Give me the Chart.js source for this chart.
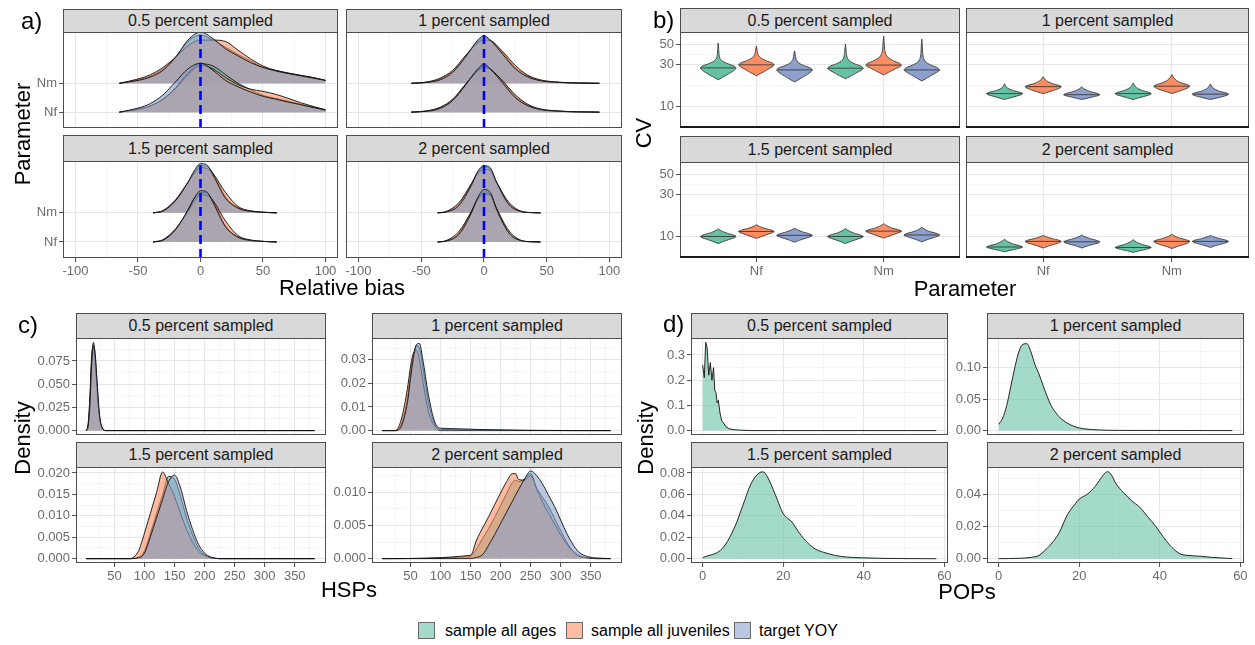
<!DOCTYPE html>
<html><head><meta charset="utf-8">
<script src="https://cdn.jsdelivr.net/npm/chart.js@4.4.0/dist/chart.umd.min.js"></script>
<style>
html,body{margin:0;padding:0;background:#fff;width:1255px;height:645px;overflow:hidden;font-family:"Liberation Sans",Arial,Helvetica,sans-serif;}
#root{position:relative;width:1255px;height:645px;}
canvas{position:absolute;}
.strip{position:absolute;background:#d9d9d9;border:1px solid #4d4d4d;box-sizing:border-box;text-align:center;font-size:16px;color:#1a1a1a;white-space:nowrap;}
.t{position:absolute;white-space:nowrap;color:#000;}
.ctr{transform:translateX(-50%);}
.rot{transform:translate(-50%,-50%) rotate(-90deg);}
.key{position:absolute;width:17px;height:17px;box-sizing:border-box;border:1px solid #6a6a6a;}
</style></head>
<body><div id="root"></div>
<script>
// ================= DATA =================
const strips = ['0.5 percent sampled','1 percent sampled','1.5 percent sampled','2 percent sampled'];
const seriesNames = ['sample all ages','sample all juveniles','target YOY'];
const params = ['Nf','Nm'];
const refBias = 0;

// ---- a) relative bias ridgelines (heights in ridge units above baseline) ----
const aX05 = [-65,-50,-40,-30,-20,-10,0,10,20,30,40,50,60,70,80,90,100];
const a05NfG = [0,0.1,0.22,0.45,0.85,1.35,1.68,1.6,1.3,1.0,0.78,0.58,0.48,0.38,0.28,0.18,0.08];
const a05NfO = [0,0.1,0.22,0.45,0.82,1.3,1.62,1.5,1.2,0.95,0.8,0.72,0.62,0.48,0.33,0.2,0.08];
const a05NfB = [0,0.14,0.3,0.6,1.05,1.5,1.7,1.45,1.1,0.88,0.7,0.55,0.45,0.35,0.26,0.16,0.07];
const a05NmG = [0,0.12,0.25,0.5,0.9,1.45,1.68,1.5,1.25,1.0,0.78,0.55,0.45,0.36,0.28,0.2,0.1];
const a05NmO = [0,0.15,0.3,0.55,0.9,1.3,1.5,1.5,1.45,1.15,0.85,0.6,0.45,0.35,0.27,0.2,0.1];
const a05NmB = [0,0.1,0.22,0.45,0.9,1.5,1.78,1.55,1.2,0.95,0.72,0.55,0.43,0.34,0.26,0.18,0.1];

const aX1 = [-58,-45,-35,-25,-15,-5,0,5,15,25,35,45,60,75,92];
const a1NfG = [0,0.04,0.15,0.42,0.95,1.45,1.6,1.5,1.05,0.55,0.24,0.1,0.03,0.01,0];
const a1NfO = [0,0.05,0.17,0.45,0.95,1.42,1.55,1.48,1.08,0.6,0.27,0.11,0.04,0.01,0];
const a1NfB = [0,0.03,0.13,0.4,0.92,1.5,1.66,1.5,1.0,0.5,0.22,0.09,0.03,0.01,0];
const a1NmG = [0,0.04,0.15,0.4,0.9,1.45,1.58,1.5,1.05,0.55,0.25,0.1,0.03,0.01,0];
const a1NmO = [0,0.05,0.18,0.45,0.95,1.4,1.5,1.48,1.1,0.62,0.28,0.12,0.04,0.01,0];
const a1NmB = [0,0.03,0.12,0.38,0.9,1.5,1.65,1.5,1.0,0.5,0.22,0.09,0.03,0.01,0];

const aX15 = [-38,-30,-20,-10,-5,0,5,10,20,30,40,50,61];
const a15NfG = [0,0.06,0.42,1.1,1.5,1.7,1.68,1.4,0.55,0.18,0.06,0.02,0];
const a15NfO = [0,0.08,0.45,1.05,1.4,1.62,1.6,1.42,0.72,0.22,0.07,0.02,0];
const a15NfB = [0,0.06,0.42,1.1,1.5,1.76,1.72,1.35,0.52,0.16,0.05,0.02,0];
const a15NmG = [0,0.06,0.4,1.05,1.4,1.62,1.6,1.35,0.55,0.18,0.06,0.02,0];
const a15NmO = [0,0.08,0.45,1.05,1.35,1.55,1.52,1.35,0.7,0.22,0.07,0.02,0];
const a15NmB = [0,0.06,0.42,1.05,1.45,1.69,1.65,1.3,0.5,0.16,0.05,0.02,0];

const aX2 = [-37,-30,-20,-10,-5,0,5,10,20,30,37,45];
const a2NfG = [0,0.04,0.3,1.05,1.5,1.72,1.65,1.15,0.32,0.04,0.01,0];
const a2NfO = [0,0.05,0.36,1.05,1.45,1.65,1.6,1.15,0.38,0.05,0.01,0];
const a2NfB = [0,0.03,0.26,1.0,1.52,1.8,1.7,1.12,0.3,0.04,0.01,0];
const a2NmG = [0,0.04,0.3,1.0,1.4,1.58,1.5,1.05,0.3,0.04,0.01,0];
const a2NmO = [0,0.05,0.35,1.0,1.35,1.5,1.45,1.05,0.35,0.05,0.01,0];
const a2NmB = [0,0.03,0.25,0.95,1.42,1.62,1.55,1.05,0.28,0.04,0.01,0];

const aBiasTicks = [-100,-50,0,50,100];

// ---- b) CV violins (CV values along each violin, relative width profile) ----
const bWidthLong = [0,0.2,0.45,0.7,0.92,1,0.88,0.55,0.25,0.1,0.05,0.03,0];
const bWidthShort = [0,0.3,0.65,0.92,1,0.85,0.5,0.25,0.1,0];
const b05NfG = [20.1,21.2,22.6,24.2,26,27.4,28.8,30.5,32.5,35,39,44,52.4];
const b05NfO = [22.3,23.5,25,26.8,28.5,29.7,31.2,33,35.5,38.5,42,45,48.4];
const b05NfB = [19,20,21.5,23,24.8,26,27.4,29,31,34,37,40,42.7];
const b05NmG = [20.6,21.7,23,24.6,26,27.2,28.6,30.3,32.5,35.5,40,45,51];
const b05NmO = [22.8,24,25.4,27,28.4,29.5,31,33,36,40,46,54,63];
const b05NmB = [19.5,20.5,22,23.5,25,26,27.5,29.3,31.5,35,40,48,58];
const b1NfG = [12,12.5,13.1,13.6,14,14.5,15.1,15.8,16.6,18.1];
const b1NfO = [14,14.6,15.4,16.2,16.8,17.4,18.2,19.2,20.3,21.7];
const b1NfB = [12,12.4,12.9,13.3,13.6,14.1,14.7,15.4,16,16.8];
const b1NmG = [12,12.5,13.1,13.6,14,14.5,15.2,16,17,18.5];
const b1NmO = [14,14.7,15.5,16.4,17,17.7,18.6,19.8,21.2,23];
const b1NmB = [12,12.4,12.9,13.4,13.8,14.3,14.9,15.7,16.6,18];
const b15NfG = [8.3,8.8,9.3,9.7,10.0,10.4,10.9,11.4,11.8,12.2];
const b15NfO = [9.5,10.0,10.6,11.1,11.4,11.8,12.3,12.8,13.2,13.6];
const b15NfB = [8.6,9.1,9.6,10.0,10.3,10.7,11.2,11.7,12.1,12.4];
const b15NmG = [8.3,8.8,9.3,9.7,10.0,10.4,10.9,11.4,11.9,12.3];
const b15NmO = [9.6,10.1,10.7,11.2,11.5,11.9,12.4,13.0,13.5,14.0];
const b15NmB = [8.7,9.2,9.7,10.1,10.4,10.8,11.3,11.8,12.3,12.7];
const b2NfG = [6.7,6.95,7.2,7.45,7.6,7.85,8.2,8.6,8.95,9.3];
const b2NfO = [7.4,7.8,8.2,8.55,8.8,9.1,9.45,9.8,10.05,10.3];
const b2NfB = [7.4,7.8,8.15,8.45,8.7,9.0,9.4,9.8,10.1,10.4];
const b2NmG = [6.6,6.85,7.1,7.35,7.5,7.75,8.1,8.5,8.85,9.2];
const b2NmO = [7.3,7.7,8.1,8.5,8.8,9.1,9.5,9.9,10.25,10.6];
const b2NmB = [7.5,7.9,8.25,8.55,8.8,9.1,9.45,9.8,10.05,10.3];
const bCvTicks = [10,30,50];

// ---- c) HSPs density ----
const c05X = [3,6,9,12,15,18,21,24,27,30,35,383];
const c05G = [0,0.005,0.03,0.075,0.095,0.08,0.05,0.022,0.008,0.002,0,0];
const c05O = [0,0.006,0.035,0.08,0.09,0.072,0.045,0.02,0.007,0.002,0,0];
const c05B = [0,0.004,0.026,0.07,0.092,0.082,0.054,0.025,0.009,0.003,0,0];
const c1X = [3,25,35,45,50,55,60,65,70,80,90,100,383];
const c1G = [0,0,0.003,0.014,0.024,0.032,0.036,0.035,0.028,0.012,0.003,0.0005,0];
const c1O = [0,0,0.005,0.018,0.027,0.033,0.034,0.03,0.022,0.008,0.002,0,0];
const c1B = [0,0,0.002,0.012,0.022,0.031,0.0365,0.037,0.031,0.015,0.004,0.001,0];
const c15X = [3,75,90,100,110,120,130,140,150,160,170,180,190,200,210,225,383];
const c15G = [0,0,0.0003,0.0018,0.006,0.0105,0.0148,0.0192,0.0185,0.0145,0.0095,0.0055,0.0024,0.0009,0.0003,0,0];
const c15O = [0,0,0.0018,0.006,0.0107,0.0154,0.0202,0.0175,0.0145,0.0105,0.0068,0.0038,0.0017,0.0007,0.0002,0,0];
const c15B = [0,0,0.0002,0.0013,0.0052,0.0095,0.0138,0.018,0.0195,0.0165,0.0112,0.0068,0.0033,0.0013,0.0004,0,0];
const c2X = [3,150,160,170,180,190,200,210,220,225,230,240,250,260,270,280,290,300,310,320,330,345,360,383];
const c2G = [0,0.0003,0.0015,0.003,0.0045,0.0062,0.008,0.0098,0.0115,0.0118,0.0116,0.012,0.0128,0.0106,0.0092,0.0078,0.006,0.0042,0.0025,0.0012,0.0005,0.0001,0,0];
const c2O = [0,0.0005,0.0028,0.0046,0.0063,0.0081,0.0099,0.0116,0.0128,0.0128,0.0119,0.0118,0.0125,0.0105,0.0085,0.0068,0.0052,0.0036,0.0022,0.0011,0.0004,0.0001,0,0];
const c2B = [0,0,0.0002,0.0006,0.002,0.0036,0.0053,0.007,0.0087,0.0096,0.0104,0.012,0.0132,0.0125,0.0112,0.0095,0.0078,0.0058,0.0038,0.0022,0.001,0.0003,0.0001,0];
const cHspTicks = [50,100,150,200,250,300,350];
const c05Ticks = [0,0.025,0.05,0.075];
const c1Ticks = [0,0.01,0.02,0.03];
const c15Ticks = [0,0.005,0.01,0.015,0.02];
const c2Ticks = [0,0.005,0.01];

// ---- d) POPs density (sample all ages) ----
const d05X = [0,0.4,0.75,1.1,1.5,1.9,2.3,2.7,3.0,3.3,3.6,3.9,4.3,4.7,5.2,5.8,6.5,7.5,9,12,58];
const d05 = [0.26,0.21,0.35,0.33,0.22,0.27,0.2,0.25,0.16,0.15,0.11,0.12,0.07,0.04,0.03,0.015,0.008,0.004,0.002,0,0];
const d1X = [0,1,2,3,4,5,6,7,8,9,10,11,12,13,14,15,17,19,21,25,30,58];
const d1 = [0.01,0.02,0.04,0.07,0.1,0.125,0.137,0.138,0.125,0.105,0.09,0.072,0.055,0.04,0.03,0.022,0.012,0.006,0.003,0.001,0.0003,0];
const d15X = [0,5,8,10,12,14,15,16,18,20,21,22,24,26,28,30,33,36,40,45,58];
const d15 = [0.001,0.01,0.03,0.05,0.07,0.08,0.081,0.077,0.06,0.042,0.038,0.035,0.024,0.015,0.009,0.006,0.003,0.0015,0.0008,0.0003,0];
const d2X = [0,5,8,10,11,13,15,17,19,20,22,24,26,27,28,29,31,33,35,37,39,41,43,45,47,50,53,58];
const d2 = [0,0.0002,0.0008,0.002,0.004,0.009,0.016,0.027,0.034,0.037,0.04,0.045,0.052,0.054,0.052,0.047,0.041,0.036,0.032,0.026,0.02,0.013,0.007,0.003,0.002,0.0015,0.0008,0];
const dPopTicks = [0,20,40,60];
const d05Ticks = [0,0.1,0.2,0.3];
const d1Ticks = [0,0.05,0.1];
const d15Ticks = [0,0.02,0.04,0.06,0.08];
const d2Ticks = [0,0.02,0.04];

// ================= RENDERING =================
const root = document.getElementById('root');
const P = 14;
const FONT = "'Liberation Sans', Arial, Helvetica, sans-serif";
const MAJ = '#e6e6e6', MINC = '#f2f2f2';
const COL = { G:[102,194,165], O:[252,141,98], B:[141,160,203] };
const rgba = (c,a) => `rgba(${c[0]},${c[1]},${c[2]},${a})`;
const rgb = c => `rgb(${c[0]},${c[1]},${c[2]})`;
const near = (a,b) => Math.abs(a-b) < 1e-9 * Math.max(1, Math.abs(b));

// minor gridlines halfway between major ticks (ggplot style), extended one step at each end
function minorsOf(major, log) {
  const t = log ? major.map(Math.log10) : major.slice();
  const out = [];
  for (let i = 0; i < t.length - 1; i++) out.push((t[i] + t[i+1]) / 2);
  out.unshift(t[0] - (t[1]-t[0])/2);
  out.push(t[t.length-1] + (t[t.length-1]-t[t.length-2])/2);
  return log ? out.map(v => Math.pow(10, v)) : out;
}

function axisCfg(s, which, size) {
  const major = s.major;
  const minor = s.noMinor ? [] : minorsOf(major, s.type === 'logarithmic').filter(v => v > s.min && v < s.max);
  const all = major.concat(minor);
  const isMinor = v => minor.some(m => near(v, m));
  return {
    type: s.type || 'linear', min: s.min, max: s.max, bounds: 'data', offset: false,
    afterBuildTicks: sc => { sc.ticks = all.map(v => ({ value: v })); },
    afterFit: sc => { if (which === 'x') sc.height = size; else sc.width = size; },
    ticks: {
      display: size > 0, autoSkip: false, maxRotation: 0, minRotation: 0, padding: 2,
      color: '#6b6b6b', font: { family: FONT, size: 13 },
      callback: v => {
        const i = major.findIndex(m => near(v, m));
        if (i < 0) return '';
        return s.labels ? s.labels[i] : s.fmt(major[i]);
      }
    },
    grid: {
      drawTicks: size > 0, tickLength: 4,
      color: c => (c.tick && isMinor(c.tick.value)) ? MINC : MAJ,
      lineWidth: c => (c.tick && isMinor(c.tick.value)) ? 0.8 : 1.1,
      tickColor: c => (c.tick && isMinor(c.tick.value)) ? 'rgba(0,0,0,0)' : '#4d4d4d',
      tickWidth: 1
    },
    border: { display: false }
  };
}

const borderPlugin = {
  id: 'pborder',
  afterDatasetsDraw(chart, args, opts) {
    const a = chart.chartArea, ctx = chart.ctx;
    ctx.save();
    ctx.strokeStyle = '#4d4d4d'; ctx.lineWidth = 1;
    ctx.strokeRect(a.left + 0.5, a.top + 0.5, a.right - a.left - 1, a.bottom - a.top - 1);
    if (opts && opts.thick) {
      ctx.strokeStyle = '#1a1a1a'; ctx.lineWidth = 2;
      ctx.beginPath(); ctx.moveTo(a.left, a.bottom - 1); ctx.lineTo(a.right, a.bottom - 1); ctx.stroke();
    }
    ctx.restore();
  }
};

function facet(rect, yw, xh, xs, ys, datasets, extra) {
  const [x0, y0, x1, y1] = rect;
  const W = x1 - x0 + yw + 2*P, H = y1 - y0 + xh + 2*P;
  const cv = document.createElement('canvas');
  cv.width = W; cv.height = H;
  Object.assign(cv.style, { left: (x0 - yw - P) + 'px', top: (y0 - P) + 'px', width: W + 'px', height: H + 'px' });
  root.appendChild(cv);
  new Chart(cv, {
    type: 'scatter',
    data: { datasets },
    options: {
      responsive: false, animation: false, devicePixelRatio: 1, events: [],
      layout: { padding: P },
      plugins: { legend: { display: false }, tooltip: { enabled: false }, pborder: extra || {} },
      scales: { x: axisCfg(xs, 'x', xh), y: axisCfg(ys, 'y', yw) }
    },
    plugins: [borderPlugin]
  });
}

function strip(x0, x1, s0, s1, text) {
  const d = document.createElement('div');
  d.className = 'strip';
  Object.assign(d.style, { left: x0 + 'px', top: s0 + 'px', width: (x1 - x0) + 'px', height: (s1 - s0 + 1) + 'px', lineHeight: (s1 - s0 - 1) + 'px' });
  d.textContent = text;
  root.appendChild(d);
}
function txt(text, x, y, size, cls) {
  const d = document.createElement('div');
  d.className = 't ' + (cls || '');
  Object.assign(d.style, { left: x + 'px', top: y + 'px', fontSize: size + 'px', lineHeight: size + 'px' });
  d.textContent = text;
  root.appendChild(d);
}

const lineBase = { showLine: true, pointRadius: 0, borderColor: '#111', borderWidth: 0.9 };
function ridge(xs, h, base, key) {
  return Object.assign({}, lineBase, { data: xs.map((x,i) => ({ x, y: base + h[i] })), backgroundColor: rgba(COL[key], 0.6), fill: { value: base }, cubicInterpolationMode: 'monotone' });
}
function dens(xs, ys, key, spiky) {
  const d = Object.assign({}, lineBase, { data: xs.map((x,i) => ({ x, y: ys[i] })), backgroundColor: rgba(COL[key], 0.6), fill: 'origin' });
  if (spiky) d.tension = 0; else d.cubicInterpolationMode = 'monotone';
  return d;
}
const HW = 0.14;
function violin(pos, cv, w, key) {
  const left = cv.map((v,i) => ({ x: pos - HW*w[i], y: v }));
  const right = cv.map((v,i) => ({ x: pos + HW*w[i], y: v })).reverse();
  return { data: left.concat(right), showLine: true, pointRadius: 0, borderColor: '#3a3a3a', borderWidth: 0.9, backgroundColor: rgb(COL[key]), fill: 'shape', tension: 0.2 };
}
function medianLine(pos, cv, w) {
  const m = cv[w.indexOf(1)];
  return { data: [{ x: pos - HW, y: m }, { x: pos + HW, y: m }], showLine: true, pointRadius: 0, borderColor: '#3a3a3a', borderWidth: 0.9, fill: false };
}

// ---------- a) ----------
const aX = [aX05, aX1, aX15, aX2];
const aNf = [[a05NfG,a05NfO,a05NfB],[a1NfG,a1NfO,a1NfB],[a15NfG,a15NfO,a15NfB],[a2NfG,a2NfO,a2NfB]];
const aNm = [[a05NmG,a05NmO,a05NmB],[a1NmG,a1NmO,a1NmB],[a15NmG,a15NmO,a15NmB],[a2NmG,a2NmO,a2NmB]];
const aCols = [[63,338],[346,622]], aRows = [[9,32,128],[135,161,258]];
const aYmin = 0.45, aYmax = 3.78;
for (let i = 0; i < 4; i++) {
  const [x0,x1] = aCols[i%2], [s0,y0,y1] = aRows[Math.floor(i/2)];
  const ds = [{ data: [{ x: refBias, y: aYmin }, { x: refBias, y: aYmax }], showLine: true, pointRadius: 0, borderColor: '#0000ff', borderWidth: 2.6, borderDash: [9,5], fill: false }];
  const keys = ['G','O','B'];
  for (const k of [2,1,0]) ds.push(ridge(aX[i], aNf[i][k], 1, keys[k]));
  for (const k of [2,1,0]) ds.push(ridge(aX[i], aNm[i][k], 2, keys[k]));
  facet([x0,y0,x1,y1], i%2 ? 0 : 30, i >= 2 ? 22 : 0,
    { min: -110, max: 110, major: aBiasTicks, fmt: v => String(v) },
    { min: aYmin, max: aYmax, major: [1,2], labels: params, noMinor: true }, ds);
  strip(x0, x1, s0, y0, strips[i]);
}

// ---------- b) ----------
const bV = [
  [[b05NfG,b05NfO,b05NfB],[b05NmG,b05NmO,b05NmB]],
  [[b1NfG,b1NfO,b1NfB],[b1NmG,b1NmO,b1NmB]],
  [[b15NfG,b15NfO,b15NfB],[b15NmG,b15NmO,b15NmB]],
  [[b2NfG,b2NfO,b2NfB],[b2NmG,b2NmO,b2NmB]]
];
const bCols = [[680,960],[966,1249]], bRows = [[8,32,128],[136,162,258]];
const dodge = [-0.3, 0, 0.3];
for (let i = 0; i < 4; i++) {
  const [x0,x1] = bCols[i%2], [s0,y0,y1] = bRows[Math.floor(i/2)];
  const w = i === 0 ? bWidthLong : bWidthShort;
  const ds = [];
  const keys = ['G','O','B'];
  for (let p = 0; p < 2; p++) for (let k = 0; k < 3; k++) {
    const pos = p + 1 + dodge[k];
    ds.push(medianLine(pos, bV[i][p][k], w));
    ds.push(violin(pos, bV[i][p][k], w, keys[k]));
  }
  facet([x0,y0,x1,y1], i%2 ? 0 : 35, i >= 2 ? 22 : 0,
    { min: 0.4, max: 2.6, major: [1,2], labels: params, noMinor: true },
    { type: 'logarithmic', min: 5.7, max: 70, major: bCvTicks, fmt: v => String(v) }, ds, { thick: true });
  strip(x0, x1, s0, y0, strips[i]);
}

// ---------- c) ----------
const cX = [c05X, c1X, c15X, c2X];
const cY = [[c05G,c05O,c05B],[c1G,c1O,c1B],[c15G,c15O,c15B],[c2G,c2O,c2B]];
const cYs = [
  { min: -0.00475, max: 0.09975, major: c05Ticks, fmt: v => v.toFixed(3) },
  { min: -0.00187, max: 0.0393, major: c1Ticks, fmt: v => v.toFixed(2) },
  { min: -0.00102, max: 0.0214, major: c15Ticks, fmt: v => v.toFixed(3) },
  { min: -0.00066, max: 0.01379, major: c2Ticks, fmt: v => v.toFixed(3) }
];
const cCols = [[76,326],[372,622]], cRows = [[313,338,435],[442,467,563]];
for (let i = 0; i < 4; i++) {
  const [x0,x1] = cCols[i%2], [s0,y0,y1] = cRows[Math.floor(i/2)];
  const ds = [dens(cX[i], cY[i][2], 'B'), dens(cX[i], cY[i][1], 'O'), dens(cX[i], cY[i][0], 'G')];
  facet([x0,y0,x1,y1], 45, i >= 2 ? 22 : 0,
    { min: -14, max: 402, major: cHspTicks, fmt: v => String(v) }, cYs[i], ds);
  strip(x0, x1, s0, y0, strips[i]);
}

// ---------- d) ----------
const dX = [d05X, d1X, d15X, d2X];
const dY = [d05, d1, d15, d2];
const dYs = [
  { min: -0.0175, max: 0.3675, major: d05Ticks, fmt: v => v.toFixed(1) },
  { min: -0.007, max: 0.147, major: d1Ticks, fmt: v => v.toFixed(2) },
  { min: -0.004, max: 0.0856, major: d15Ticks, fmt: v => v.toFixed(2) },
  { min: -0.0027, max: 0.0569, major: d2Ticks, fmt: v => v.toFixed(2) }
];
const dCols = [[691,948],[987,1244]], dRows = [[313,338,435],[442,467,563]];
for (let i = 0; i < 4; i++) {
  const [x0,x1] = dCols[i%2], [s0,y0,y1] = dRows[Math.floor(i/2)];
  const ds = [dens(dX[i], dY[i], 'G', i === 0)];
  facet([x0,y0,x1,y1], 40, i >= 2 ? 22 : 0,
    { min: -2.9, max: 60.9, major: dPopTicks, fmt: v => String(v) }, dYs[i], ds);
  strip(x0, x1, s0, y0, strips[i]);
}

// ---------- titles ----------
txt('a)', 21, 9, 24); txt('b)', 653, 8, 24); txt('c)', 18, 313, 24); txt('d)', 663, 312, 24);
txt('Relative bias', 342, 277, 22, 'ctr');
txt('Parameter', 965, 278, 22, 'ctr');
txt('HSPs', 349, 579, 22, 'ctr');
txt('POPs', 967, 581, 22, 'ctr');
txt('Parameter', 23, 134, 22, 'rot');
txt('CV', 644, 133, 22, 'rot');
txt('Density', 23, 438, 22, 'rot');
txt('Density', 646, 438, 22, 'rot');

// ---------- legend ----------
const keyX = [418, 566, 734], labX = [445, 591, 759], keys = ['G','O','B'];
for (let k = 0; k < 3; k++) {
  const b = document.createElement('div');
  b.className = 'key';
  Object.assign(b.style, { left: keyX[k] + 'px', top: '622px', background: rgba(COL[keys[k]], 0.6) });
  root.appendChild(b);
  txt(seriesNames[k], labX[k], 623, 16);
}
</script>
</body></html>
